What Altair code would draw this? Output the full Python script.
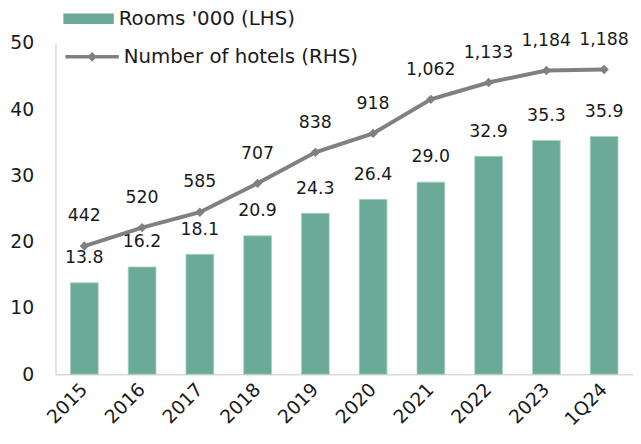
import altair as alt
import pandas as pd

periods = ["2015", "2016", "2017", "2018", "2019", "2020", "2021", "2022", "2023", "1Q24"]
rooms = [13.8, 16.2, 18.1, 20.9, 24.3, 26.4, 29.0, 32.9, 35.3, 35.9]
hotels = [442, 520, 585, 707, 838, 918, 1062, 1133, 1184, 1188]
rooms_name = "Rooms '000 (LHS)"
hotels_name = "Number of hotels (RHS)"
y_left_ticks = [0, 10, 20, 30, 40, 50]

df = pd.DataFrame({
    "period": periods,
    "rooms": rooms,
    "hotels": hotels,
    "rooms_series": [rooms_name] * len(periods),
    "hotels_series": [hotels_name] * len(periods),
})

FONT = "DejaVu Sans"
FS = 17.5
TXT = "#1a1a1a"
GREEN = "#6BAA98"
GREY = "#808080"

x_enc = alt.X(
    "period:N", sort=periods, title=None,
    scale=alt.Scale(paddingInner=0.52, paddingOuter=0.26),
    axis=alt.Axis(labelAngle=-45, labelAlign="right", labelBaseline="middle",
                  ticks=False, labelPadding=12, domainColor="#d9d9d9", domainWidth=1.5,
                  labelFontSize=19, labelFont=FONT, labelColor=TXT, grid=False),
)

left_scale = alt.Scale(domain=[0, 50], nice=False)
right_scale = alt.Scale(domain=[-100, 1300], nice=False)

base = alt.Chart(df).encode(x=x_enc)

bars = base.mark_bar(stroke="#a9d0c4", strokeWidth=0.8).encode(
    y=alt.Y("rooms:Q", scale=left_scale, title=None,
            axis=alt.Axis(values=y_left_ticks, ticks=False, grid=False, labelPadding=22,
                          domainColor="#d9d9d9", domainWidth=1.5, labelFontSize=19,
                          labelFont=FONT, labelColor=TXT)),
    fill=alt.Fill("rooms_series:N", scale=alt.Scale(domain=[rooms_name], range=[GREEN]),
                  legend=alt.Legend(title=None, orient="none", legendX=8, legendY=-50,
                                    symbolType="M-1,-0.21H1V0.21H-1Z", symbolSize=2601,
                                    symbolStrokeWidth=0, labelFontSize=20, labelFont=FONT,
                                    labelColor=TXT, labelOffset=5, padding=0, labelLimit=0)),
)

bar_text = base.mark_text(dy=-25, baseline="middle", fontSize=FS, font=FONT, color=TXT).encode(
    y=alt.Y("rooms:Q", scale=left_scale, axis=None),
    text=alt.Text("rooms:Q", format=".1f"),
)

line = base.mark_line(strokeWidth=4, color=GREY).encode(
    y=alt.Y("hotels:Q", scale=right_scale, axis=None),
    stroke=alt.Stroke("hotels_series:N", scale=alt.Scale(domain=[hotels_name], range=[GREY]),
                      legend=alt.Legend(title=None, orient="none", legendX=8, legendY=-15,
                                        symbolType="M-1,0H1M-0.09,0L0,-0.09L0.09,0L0,0.09Z",
                                        symbolSize=2916, symbolStrokeWidth=3.5,
                                        symbolFillColor=GREY, labelFontSize=20, labelFont=FONT,
                                        labelColor=TXT, labelOffset=3, padding=0, labelLimit=0)),
)

pts = base.mark_point(shape="diamond", filled=True, size=90, color=GREY, opacity=1).encode(
    y=alt.Y("hotels:Q", scale=right_scale, axis=None),
)

line_text = base.mark_text(dy=-30, baseline="middle", fontSize=FS, font=FONT, color=TXT).encode(
    y=alt.Y("hotels:Q", scale=right_scale, axis=None),
    text=alt.Text("hotels:Q", format=",d"),
)

chart = alt.layer(bars, bar_text, line, pts, line_text).resolve_scale(
    y="independent"
).properties(
    width=584, height=335,
    autosize=alt.AutoSizeParams(type="none"),
    padding={"left": 48, "top": 33, "right": 0, "bottom": 60},
).configure_view(stroke=None)

chart.save("out.html", embed_options={"renderer": "svg", "actions": False})
